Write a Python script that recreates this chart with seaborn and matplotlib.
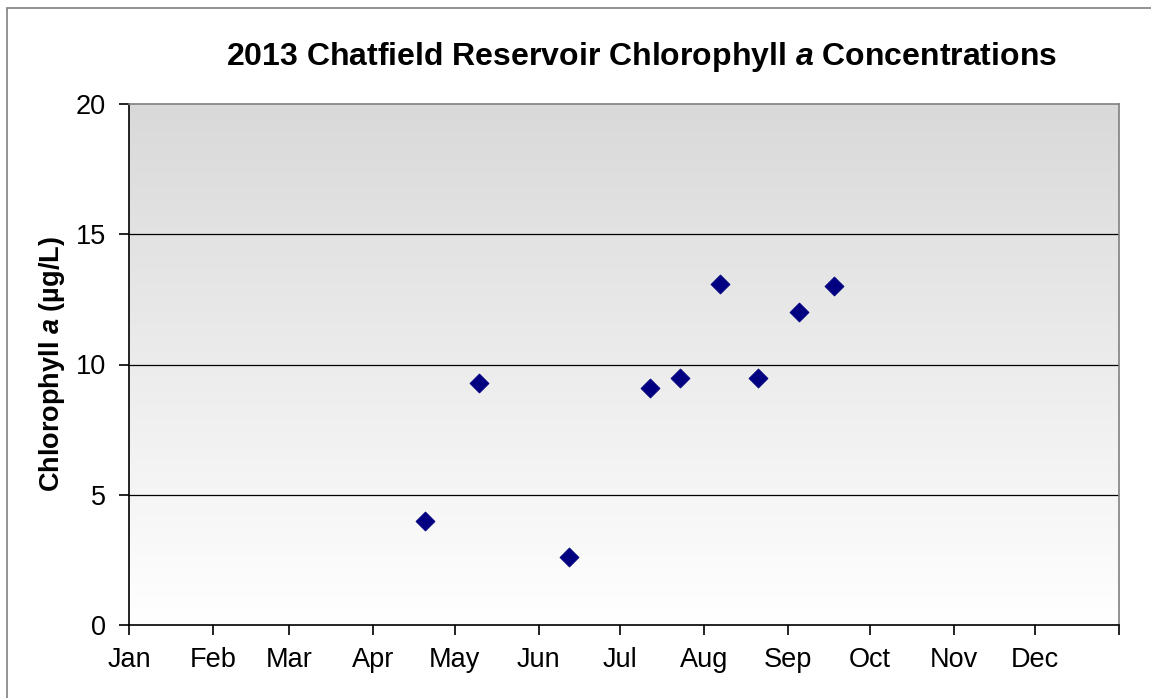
import numpy as np
import pandas as pd
import matplotlib
matplotlib.use("Agg")
import matplotlib.pyplot as plt
import matplotlib.dates as mdates
from matplotlib.patches import Rectangle
import seaborn as sns

# Sampling dates and chlorophyll a results (µg/L), 2013
sample_dates = ["2013-04-20", "2013-05-10", "2013-06-12", "2013-07-12", "2013-07-23",
                "2013-08-07", "2013-08-21", "2013-09-05", "2013-09-18"]
chlorophyll = [4.0, 9.3, 2.6, 9.1, 9.5, 13.1, 9.5, 12.0, 13.0]
y_ticks = [0, 5, 10, 15, 20]

df = pd.DataFrame({"date": pd.to_datetime(sample_dates), "chl": chlorophyll})

sns.set_style("white")
plt.rcParams["font.family"] = ["Liberation Sans", "DejaVu Sans"]
plt.rcParams["text.color"] = "black"
plt.rcParams["axes.labelcolor"] = "black"
plt.rcParams["xtick.color"] = "black"
plt.rcParams["ytick.color"] = "black"
plt.rcParams["mathtext.fontset"] = "custom"
plt.rcParams["mathtext.it"] = "Liberation Sans:italic:bold"
plt.rcParams["mathtext.rm"] = "Liberation Sans:bold"

fig = plt.figure(figsize=(11.51, 6.98), dpi=100)
W, H = 1151, 698
left, right, top, bottom = 129.3, 1119, 104, 625
ax = fig.add_axes([left / W, 1 - bottom / H, (right - left) / W, (bottom - top) / H])

# outer chart frame
fig.patches.append(Rectangle((7 / W, -0.05), 1.2, 1 - 8 / H + 0.05, transform=fig.transFigure,
                             fill=False, edgecolor="#808080", linewidth=1.2, zorder=0))

# vertical gray-to-white gradient in the plot area
grad = np.linspace(0, 1, 256).reshape(-1, 1)
cmap = matplotlib.colors.LinearSegmentedColormap.from_list("bg", ["#ffffff", "#d9d9d9"])
ax.imshow(grad, extent=[0, 1, 0, 1], transform=ax.transAxes, origin="lower",
          cmap=cmap, aspect="auto", zorder=0)

for yv in y_ticks[1:-1]:
    ax.axhline(yv, color="#000000", linewidth=0.9, zorder=1)

sns.scatterplot(data=df, x="date", y="chl", marker="D", s=95, color="#000080",
                edgecolor="#000080", linewidth=0.5, ax=ax, zorder=3, legend=False)

ax.set_xlim(pd.Timestamp("2013-01-01"), pd.Timestamp("2014-01-01"))
ax.set_ylim(0, 20)
ax.set_yticks(y_ticks)
ax.xaxis.set_major_locator(mdates.MonthLocator())
ticks = ax.get_xticks()
ax.set_xticks(ticks)
ax.set_xticklabels([mdates.num2date(t).strftime("%b") if t < ticks[-1] else "" for t in ticks])

ax.tick_params(axis="both", which="major", direction="out", length=7, width=1.2,
               color="#000000", labelcolor="black", labelsize=19.5, pad=8,
               left=True, bottom=True)
ax.tick_params(axis="x", pad=9)
ax.tick_params(axis="y", pad=10)

for side in ["left", "bottom"]:
    ax.spines[side].set_color("#000000")
    ax.spines[side].set_linewidth(1.2)
for side in ["top", "right"]:
    ax.spines[side].set_color("#808080")
    ax.spines[side].set_linewidth(1.2)

ax.set_xlabel("")
ax.set_ylabel(r"Chlorophyll $a$ (µg/L)", fontsize=19.5, fontweight="bold",
              color="black", labelpad=6)
fig.text(642 / W, 1 - 57 / H, r"2013 Chatfield Reservoir Chlorophyll $a$ Concentrations",
         ha="center", va="center", fontsize=23, fontweight="bold", color="black")

fig.savefig("out.png", dpi=100)
